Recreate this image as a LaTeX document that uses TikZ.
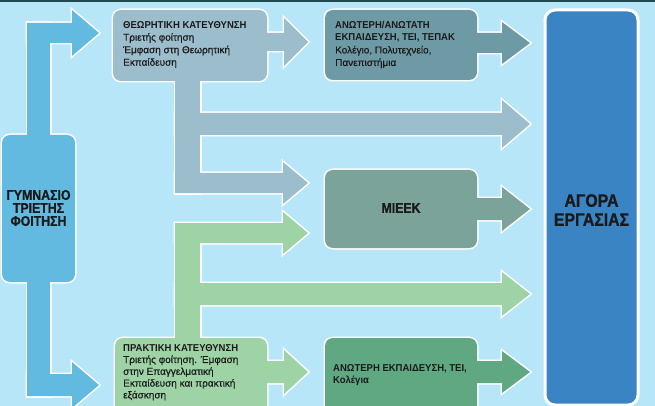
\documentclass[tikz,border=0pt]{standalone}
\usepackage{fontspec}
\setmainfont{Liberation Sans}[FakeBold=0.4]
\newfontfamily\condf{Liberation Sans}[FakeStretch=0.95]
\newfontfamily\bigf{Liberation Sans Bold}[FakeStretch=0.88, FakeBold=1]
\newcommand\hd[1]{{\condf\bfseries #1}}
\definecolor{bg}{HTML}{B8E6F9}
\definecolor{topline}{HTML}{1E4A50}
\definecolor{gymc}{HTML}{62BAE0}
\definecolor{theoc}{HTML}{9BBDCC}
\definecolor{pracc}{HTML}{9DD3A5}
\definecolor{highc}{HTML}{6E9AA6}
\definecolor{miec}{HTML}{7BA399}
\definecolor{hpc}{HTML}{5FA882}
\definecolor{agorac}{HTML}{3B84C4}
\definecolor{txt}{HTML}{1A1A1A}
\newcommand\myarr[6]{(#1,#2-#5) -- (#3,#2-#5) -- (#3,#2-#6) -- (#4,#2) -- (#3,#2+#6) -- (#3,#2+#5) -- (#1,#2+#5) -- cycle}
\newcommand\gymParts[1]{%
 \path[#1] (27,23) rectangle (50,140);
 \path[#1] \myarr{27}{33}{72}{99}{10}{23};
 \path[#1] (27,275) rectangle (50,396);
 \path[#1] \myarr{27}{385}{72}{99}{11}{23};
 \node[#1, boxshape, minimum width=73, minimum height=147] (gym) at (38.5,208.5) {};
}
\newcommand\theoParts[1]{%
 \path[#1] \myarr{260}{42}{284}{308}{9}{24};
 \path[#1] (175,75) rectangle (200,193);
 \path[#1] \myarr{175}{124}{502}{530}{11}{24};
 \path[#1] \myarr{175}{183}{283}{308}{10}{21};
 \node[#1, boxshape, minimum width=154, minimum height=71] (theo) at (190,45.5) {};
}
\newcommand\pracParts[1]{%
 \path[#1] \myarr{175}{233}{283}{308}{10}{21};
 \path[#1] (175,223) rectangle (200,345);
 \path[#1] \myarr{175}{294}{502}{530}{11}{22};
 \path[#1] \myarr{260}{372}{284}{308}{11}{22};
 \node[#1, boxshape, minimum width=152, minimum height=80] (prac) at (191,378) {};
}
\newcommand\highParts[1]{%
 \path[#1] \myarr{470}{43}{502}{530}{10}{21};
 \node[#1, boxshape, minimum width=152, minimum height=70] (high) at (401,45) {};
}
\newcommand\mieParts[1]{%
 \path[#1] \myarr{470}{209}{502}{530}{11}{22};
 \node[#1, boxshape, minimum width=152, minimum height=78] (mieek) at (401,209) {};
}
\newcommand\hpParts[1]{%
 \path[#1] \myarr{470}{372}{502}{530}{11}{21};
 \node[#1, boxshape, minimum width=152, minimum height=80] (hp) at (401,378) {};
}
\tikzset{
 boxshape/.style={rectangle, rounded corners=8, inner sep=0, outer sep=0},
 outl/.style={draw=white, line width=3},
 small/.style={font=\fontsize{10}{12.5}\selectfont, align=left, inner sep=0, text=txt},
 big/.style={font=\fontsize{14}{13}\selectfont\bigf, align=center, inner sep=0, text=txt},
}
\begin{document}
\begin{tikzpicture}[x=1pt,y=-1pt]
\useasboundingbox (0,0) rectangle (655,406);
\fill[bg] (0,0) rectangle (655,406);
\fill[topline] (0,0) rectangle (655,2);
\gymParts{outl}
\gymParts{fill=gymc}
\theoParts{outl}
\theoParts{fill=theoc}
\pracParts{outl}
\pracParts{fill=pracc}
\highParts{outl}
\highParts{fill=highc}
\mieParts{outl}
\mieParts{fill=miec}
\hpParts{outl}
\hpParts{fill=hpc}
\node[outl, fill=agorac, rectangle, rounded corners=10, inner sep=0, minimum width=93, minimum height=395] (agora) at (591.5,207.5) {};
% texts
\node[big] (gymtxt) at (38.5,208) {ΓΥΜΝΑΣΙΟ\\ΤΡΙΕΤΗΣ\\ΦΟΙΤΗΣΗ};
\node[big, font=\fontsize{18}{19}\selectfont\bigf] (agoratxt) at (591.5,210) {ΑΓΟΡΑ\\ΕΡΓΑΣΙΑΣ};
\node[big] (mieektxt) at (401,208) {ΜΙΕΕΚ};
\node[small, anchor=north west] (theotxt) at (123,21) {\hd{ΘΕΩΡΗΤΙΚΗ ΚΑΤΕΥΘΥΝΣΗ}\\Τριετής φοίτηση\\Έμφαση στη Θεωρητική\\Εκπαίδευση};
\node[small, anchor=north west] (hightxt) at (335,21) {\hd{ΑΝΩΤΕΡΗ/ΑΝΩΤΑΤΗ}\\\hd{ΕΚΠΑΙΔΕΥΣΗ, ΤΕΙ, ΤΕΠΑΚ}\\Κολέγιο, Πολυτεχνείο,\\Πανεπιστήμια};
\node[small, anchor=north west, font=\fontsize{10}{11.8}\selectfont] (practxt) at (123,344) {\hd{ΠΡΑΚΤΙΚΗ ΚΑΤΕΥΘΥΝΣΗ}\\Τριετής φοίτηση. Έμφαση\\στην Επαγγελματική\\Εκπαίδευση και πρακτική\\εξάσκηση};
\node[small, anchor=north west] (hptxt) at (333,364) {\hd{ΑΝΩΤΕΡΗ ΕΚΠΑΙΔΕΥΣΗ, ΤΕΙ,}\\\hd{Κολέγια}};
\end{tikzpicture}
\end{document}
